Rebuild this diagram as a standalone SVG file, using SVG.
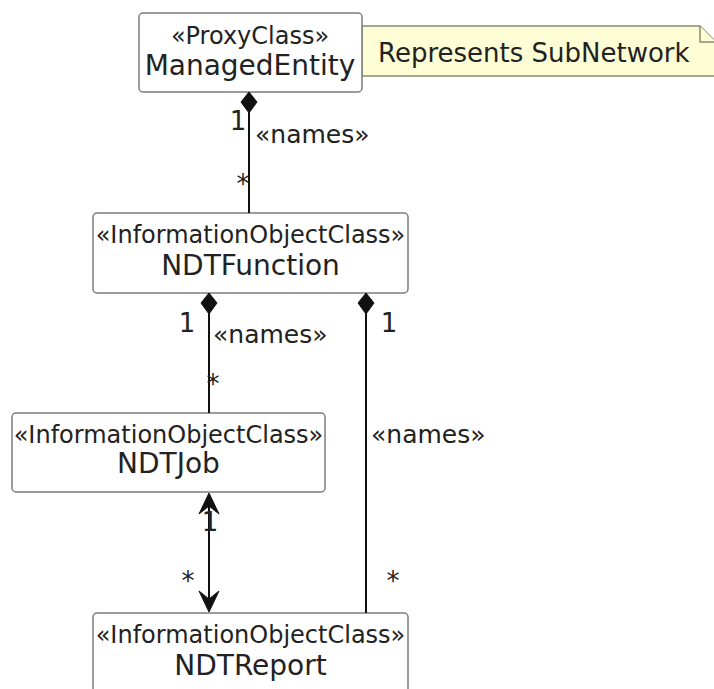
<svg xmlns="http://www.w3.org/2000/svg" width="714" height="689" viewBox="0 0 714 689">
<defs>
<style>
.box{fill:#ffffff;stroke:#7c7c7c;stroke-width:1.5}
.st{font-family:"DejaVu Sans",sans-serif;font-size:24px;fill:#222;text-anchor:middle}
.nm{font-family:"DejaVu Sans",sans-serif;font-size:28px;fill:#222;text-anchor:middle}
.lbl{font-family:"DejaVu Sans",sans-serif;font-size:25px;fill:#222}
.mul{font-family:"DejaVu Sans",sans-serif;font-size:26px;fill:#222;text-anchor:middle}
.ln{stroke:#111;stroke-width:2;fill:none}
.dia{fill:#111;stroke:#111;stroke-width:1}
.note{fill:#fefed6;stroke:#8a8a70;stroke-width:1.5}
</style>
</defs>
<rect width="714" height="689" fill="#ffffff"/>

<g id="note">
<path class="note" d="M362,26 L700,26 L716,42 L716,76 L362,76 Z"/>
<path class="note" d="M700,26 L700,42 L716,42"/>
<text class="lbl" x="378" y="62" style="font-size:26px">Represents SubNetwork</text>
</g>

<g id="ManagedEntity">
<rect class="box" x="139" y="13" width="223" height="79" rx="4"/>
<text class="st" x="250" y="44">«ProxyClass»</text>
<text class="nm" x="250" y="75">ManagedEntity</text>
</g>

<g id="NDTFunction">
<rect class="box" x="93" y="213" width="315" height="80" rx="4"/>
<text class="st" x="250.5" y="243">«InformationObjectClass»</text>
<text class="nm" x="250.5" y="275">NDTFunction</text>
</g>

<g id="NDTJob">
<rect class="box" x="12" y="413" width="313" height="79" rx="4"/>
<text class="st" x="168.5" y="443">«InformationObjectClass»</text>
<text class="nm" x="168.5" y="473">NDTJob</text>
</g>

<g id="NDTReport">
<rect class="box" x="93" y="613" width="315" height="100" rx="4"/>
<text class="st" x="250.5" y="643">«InformationObjectClass»</text>
<text class="nm" x="250.5" y="675">NDTReport</text>
</g>

<g id="connectors">
<!-- ManagedEntity -> NDTFunction -->
<line class="ln" x1="249" y1="112" x2="249" y2="213"/>
<path class="dia" d="M249,92 L257,102 L249,113 L241,102 Z"/>
<text class="mul" x="238" y="130">1</text>
<text class="lbl" x="255" y="143">«names»</text>
<text class="mul" x="243" y="193">*</text>

<!-- NDTFunction -> NDTJob -->
<line class="ln" x1="209" y1="313" x2="209" y2="413"/>
<path class="dia" d="M209,293 L217,303 L209,314 L201,303 Z"/>
<text class="mul" x="187" y="332">1</text>
<text class="lbl" x="213" y="343">«names»</text>
<text class="mul" x="213" y="393">*</text>

<!-- NDTFunction -> NDTReport -->
<line class="ln" x1="366" y1="313" x2="366" y2="613"/>
<path class="dia" d="M366,293 L374,303 L366,314 L358,303 Z"/>
<text class="mul" x="389" y="332">1</text>
<text class="lbl" x="371" y="443">«names»</text>
<text class="mul" x="393" y="590">*</text>

<!-- NDTJob <-> NDTReport -->
<line class="ln" x1="209" y1="496" x2="209" y2="609"/>
<path class="dia" d="M209,493 L219,514 L209,506 L199,514 Z"/>
<path class="dia" d="M209,612 L219,591 L209,599 L199,591 Z"/>
<text class="mul" x="210" y="531">1</text>
<text class="mul" x="188" y="590">*</text>
</g>
</svg>
